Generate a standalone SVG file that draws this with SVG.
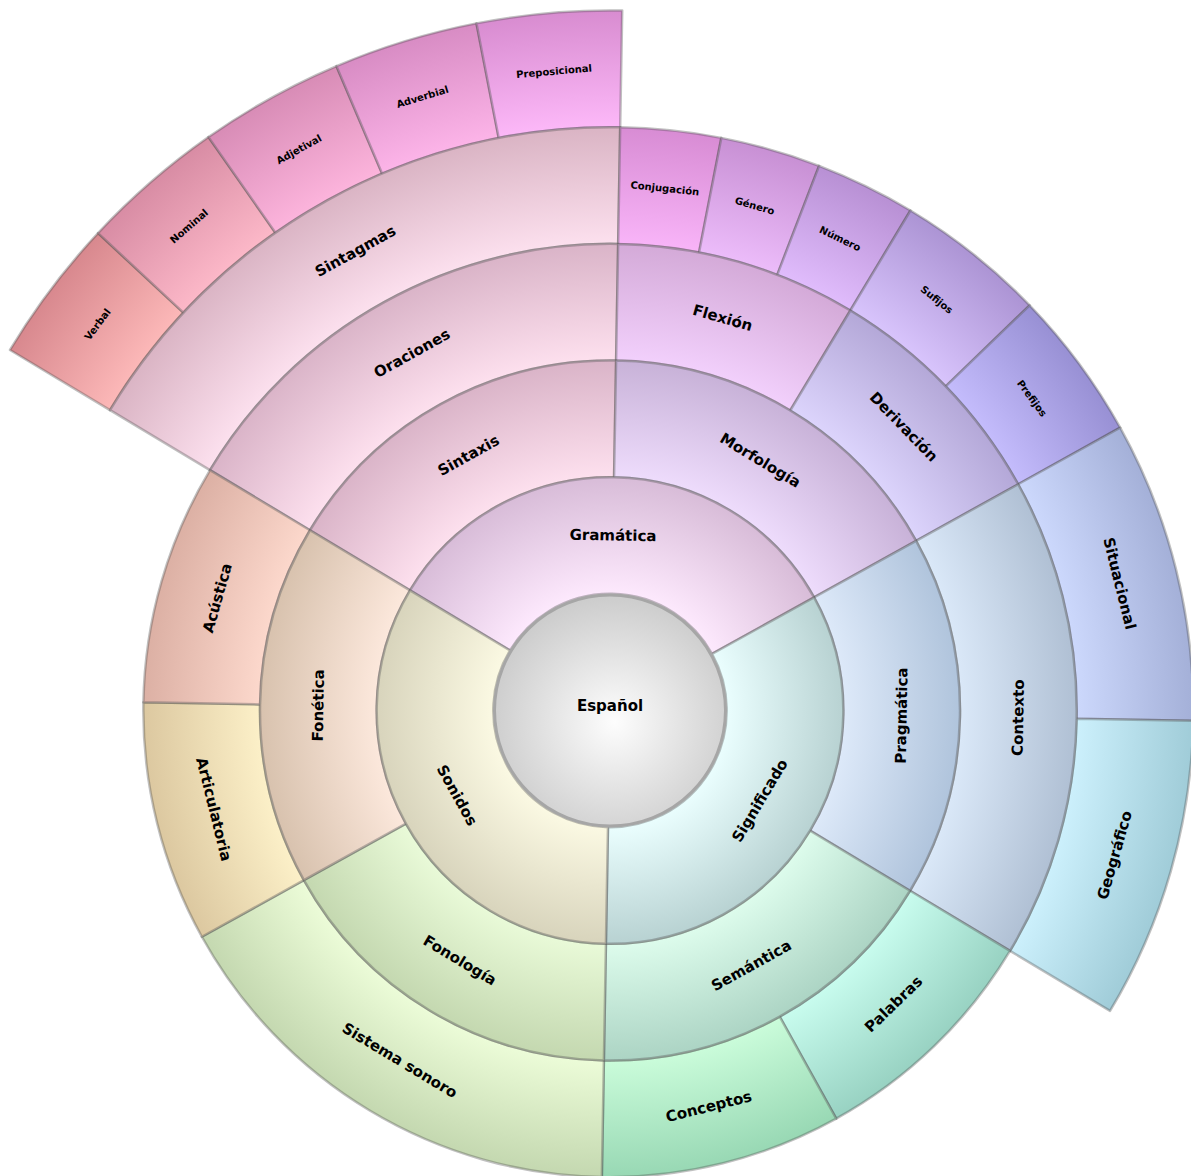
<svg xmlns="http://www.w3.org/2000/svg" xmlns:xlink="http://www.w3.org/1999/xlink" width="1191" height="1176" viewBox="0 0 1191 1176">
<style>
.seg{stroke:#505050;stroke-opacity:.36;stroke-width:2.5;stroke-linejoin:round}
.lbl{font-family:"DejaVu Sans","Liberation Sans",sans-serif;font-weight:bold;font-size:15px;fill:#000;text-anchor:middle;dominant-baseline:central}
.sm{font-size:10px}
</style>
<defs>
<path id="pA" d="M0,-233.33 A233.33,233.33 0 0 1 202.07,116.67 L101.04,58.33 A116.67,116.67 0 0 0 0,-116.67 Z"/>
<path id="pB" d="M0,-350 A350,350 0 0 1 303.11,-175 L202.07,-116.67 A233.33,233.33 0 0 0 0,-233.33 Z"/>
<path id="pC" d="M0,-466.67 A466.67,466.67 0 0 1 404.15,-233.33 L303.11,-175 A350,350 0 0 0 0,-350 Z"/>
<path id="pD" d="M0,-466.67 A466.67,466.67 0 0 1 233.33,-404.15 L175,-303.11 A350,350 0 0 0 0,-350 Z"/>
<path id="pE" d="M0,-583.33 A583.33,583.33 0 0 1 505.18,-291.67 L404.15,-233.33 A466.67,466.67 0 0 0 0,-466.67 Z"/>
<path id="pF" d="M0,-583.33 A583.33,583.33 0 0 1 101.29,-574.47 L81.04,-459.58 A466.67,466.67 0 0 0 0,-466.67 Z"/>
<path id="pG" d="M0,-583.33 A583.33,583.33 0 0 1 150.98,-563.46 L120.78,-450.77 A466.67,466.67 0 0 0 0,-466.67 Z"/>
<path id="pH" d="M0,-583.33 A583.33,583.33 0 0 1 291.67,-505.18 L233.33,-404.15 A466.67,466.67 0 0 0 0,-466.67 Z"/>
<path id="pI" d="M0,-700 A700,700 0 0 1 145.54,-684.70 L121.28,-570.59 A583.33,583.33 0 0 0 0,-583.33 Z"/>

<radialGradient id="gEsp" cx="0.52" cy="0.55" r="0.56"><stop offset="0" stop-color="#fdfdfd"/><stop offset="1" stop-color="#cbcbcb"/></radialGradient>

<radialGradient id="gGram" gradientUnits="userSpaceOnUse" cx="0" cy="0" r="700"><stop offset=".1667" stop-color="#fde9fd"/><stop offset=".3333" stop-color="#d8bcd8"/></radialGradient>
<radialGradient id="gSign" gradientUnits="userSpaceOnUse" cx="0" cy="0" r="700"><stop offset=".1667" stop-color="#eafefe"/><stop offset=".3333" stop-color="#b8d2d2"/></radialGradient>
<radialGradient id="gSon" gradientUnits="userSpaceOnUse" cx="0" cy="0" r="700"><stop offset=".1667" stop-color="#fbf9e3"/><stop offset=".3333" stop-color="#d8d4bc"/></radialGradient>

<radialGradient id="gSint" gradientUnits="userSpaceOnUse" cx="0" cy="0" r="700"><stop offset=".3333" stop-color="#fde0ee"/><stop offset=".5" stop-color="#dab4c8"/></radialGradient>
<radialGradient id="gMorf" gradientUnits="userSpaceOnUse" cx="0" cy="0" r="700"><stop offset=".3333" stop-color="#eedcfc"/><stop offset=".5" stop-color="#c8b2d8"/></radialGradient>
<radialGradient id="gPrag" gradientUnits="userSpaceOnUse" cx="0" cy="0" r="700"><stop offset=".3333" stop-color="#dde9f9"/><stop offset=".5" stop-color="#b0c4dc"/></radialGradient>
<radialGradient id="gSem" gradientUnits="userSpaceOnUse" cx="0" cy="0" r="700"><stop offset=".3333" stop-color="#ddfcec"/><stop offset=".5" stop-color="#acd4c4"/></radialGradient>
<radialGradient id="gFonol" gradientUnits="userSpaceOnUse" cx="0" cy="0" r="700"><stop offset=".3333" stop-color="#e9fad8"/><stop offset=".5" stop-color="#c4d8b0"/></radialGradient>
<radialGradient id="gFonet" gradientUnits="userSpaceOnUse" cx="0" cy="0" r="700"><stop offset=".3333" stop-color="#fce8dc"/><stop offset=".5" stop-color="#d8c2ae"/></radialGradient>

<radialGradient id="gOrac" gradientUnits="userSpaceOnUse" cx="0" cy="0" r="700"><stop offset=".5" stop-color="#fde0ee"/><stop offset=".6667" stop-color="#dab4c8"/></radialGradient>
<radialGradient id="gFlex" gradientUnits="userSpaceOnUse" cx="0" cy="0" r="700"><stop offset=".5" stop-color="#f2d0fc"/><stop offset=".6667" stop-color="#d4aad8"/></radialGradient>
<radialGradient id="gDeriv" gradientUnits="userSpaceOnUse" cx="0" cy="0" r="700"><stop offset=".5" stop-color="#dcd4fc"/><stop offset=".6667" stop-color="#b4a8d8"/></radialGradient>
<radialGradient id="gCont" gradientUnits="userSpaceOnUse" cx="0" cy="0" r="700"><stop offset=".5" stop-color="#dae8f8"/><stop offset=".6667" stop-color="#b0c0d4"/></radialGradient>
<radialGradient id="gPal" gradientUnits="userSpaceOnUse" cx="0" cy="0" r="700"><stop offset=".5" stop-color="#c8fcee"/><stop offset=".6667" stop-color="#98d2c2"/></radialGradient>
<radialGradient id="gConc" gradientUnits="userSpaceOnUse" cx="0" cy="0" r="700"><stop offset=".5" stop-color="#cafcda"/><stop offset=".6667" stop-color="#98d8b4"/></radialGradient>
<radialGradient id="gSis" gradientUnits="userSpaceOnUse" cx="0" cy="0" r="700"><stop offset=".5" stop-color="#ecfcd8"/><stop offset=".6667" stop-color="#c4d8b0"/></radialGradient>
<radialGradient id="gArt" gradientUnits="userSpaceOnUse" cx="0" cy="0" r="700"><stop offset=".5" stop-color="#fcf0c8"/><stop offset=".6667" stop-color="#dcc8a0"/></radialGradient>
<radialGradient id="gAcu" gradientUnits="userSpaceOnUse" cx="0" cy="0" r="700"><stop offset=".5" stop-color="#fcd8cc"/><stop offset=".6667" stop-color="#dcb0a4"/></radialGradient>

<radialGradient id="gSintag" gradientUnits="userSpaceOnUse" cx="0" cy="0" r="700"><stop offset=".6667" stop-color="#fce0ee"/><stop offset=".8333" stop-color="#dab4c4"/></radialGradient>
<radialGradient id="gConj" gradientUnits="userSpaceOnUse" cx="0" cy="0" r="700"><stop offset=".6667" stop-color="#f8b4f8"/><stop offset=".8333" stop-color="#d88cd4"/></radialGradient>
<radialGradient id="gGen" gradientUnits="userSpaceOnUse" cx="0" cy="0" r="700"><stop offset=".6667" stop-color="#ecbcfa"/><stop offset=".8333" stop-color="#c890d4"/></radialGradient>
<radialGradient id="gNum" gradientUnits="userSpaceOnUse" cx="0" cy="0" r="700"><stop offset=".6667" stop-color="#e0bcfc"/><stop offset=".8333" stop-color="#b890d4"/></radialGradient>
<radialGradient id="gSuf" gradientUnits="userSpaceOnUse" cx="0" cy="0" r="700"><stop offset=".6667" stop-color="#d8c4fc"/><stop offset=".8333" stop-color="#ac94d4"/></radialGradient>
<radialGradient id="gPref" gradientUnits="userSpaceOnUse" cx="0" cy="0" r="700"><stop offset=".6667" stop-color="#c4bcfc"/><stop offset=".8333" stop-color="#9890d4"/></radialGradient>
<radialGradient id="gSit" gradientUnits="userSpaceOnUse" cx="0" cy="0" r="700"><stop offset=".6667" stop-color="#ccd8fc"/><stop offset=".8333" stop-color="#a4b0d8"/></radialGradient>
<radialGradient id="gGeo" gradientUnits="userSpaceOnUse" cx="0" cy="0" r="700"><stop offset=".6667" stop-color="#ccf0fc"/><stop offset=".8333" stop-color="#a0ccd8"/></radialGradient>

<radialGradient id="gVerb" gradientUnits="userSpaceOnUse" cx="0" cy="0" r="700"><stop offset=".8333" stop-color="#fcb8b8"/><stop offset="1" stop-color="#d8888e"/></radialGradient>
<radialGradient id="gNom" gradientUnits="userSpaceOnUse" cx="0" cy="0" r="700"><stop offset=".8333" stop-color="#fcb8c8"/><stop offset="1" stop-color="#d88ca4"/></radialGradient>
<radialGradient id="gAdj" gradientUnits="userSpaceOnUse" cx="0" cy="0" r="700"><stop offset=".8333" stop-color="#fcb4dc"/><stop offset="1" stop-color="#d88cb6"/></radialGradient>
<radialGradient id="gAdv" gradientUnits="userSpaceOnUse" cx="0" cy="0" r="700"><stop offset=".8333" stop-color="#fcb4e8"/><stop offset="1" stop-color="#d88cc4"/></radialGradient>
<radialGradient id="gPrep" gradientUnits="userSpaceOnUse" cx="0" cy="0" r="700"><stop offset=".8333" stop-color="#fcb8f8"/><stop offset="1" stop-color="#d88cd0"/></radialGradient>
</defs>

<rect width="1191" height="1176" fill="#ffffff"/>

<g transform="translate(610,710.5)">
  <!-- ring 5 -->
  <g id="verbal"><use xlink:href="#pI" class="seg" fill="url(#gVerb)" transform="rotate(-59)"/><text class="lbl sm" transform="rotate(-53) translate(0,-641.67)">Verbal</text></g>
  <g id="nominal"><use xlink:href="#pI" class="seg" fill="url(#gNom)" transform="rotate(-47)"/><text class="lbl sm" transform="rotate(-41) translate(0,-641.67)">Nominal</text></g>
  <g id="adjetival"><use xlink:href="#pI" class="seg" fill="url(#gAdj)" transform="rotate(-35)"/><text class="lbl sm" transform="rotate(-29) translate(0,-641.67)">Adjetival</text></g>
  <g id="adverbial"><use xlink:href="#pI" class="seg" fill="url(#gAdv)" transform="rotate(-23)"/><text class="lbl sm" transform="rotate(-17) translate(0,-641.67)">Adverbial</text></g>
  <g id="preposicional"><use xlink:href="#pI" class="seg" fill="url(#gPrep)" transform="rotate(-11)"/><text class="lbl sm" transform="rotate(-5) translate(0,-641.67)">Preposicional</text></g>

  <!-- ring 4 -->
  <g id="sintagmas"><use xlink:href="#pE" class="seg" fill="url(#gSintag)" transform="rotate(-59)"/><text class="lbl" transform="rotate(-29) translate(0,-525)">Sintagmas</text></g>
  <g id="conjugacion"><use xlink:href="#pF" class="seg" fill="url(#gConj)" transform="rotate(1)"/><text class="lbl sm" transform="rotate(6) translate(0,-525)">Conjugación</text></g>
  <g id="genero"><use xlink:href="#pF" class="seg" fill="url(#gGen)" transform="rotate(11)"/><text class="lbl sm" transform="rotate(16) translate(0,-525)">Género</text></g>
  <g id="numero"><use xlink:href="#pF" class="seg" fill="url(#gNum)" transform="rotate(21)"/><text class="lbl sm" transform="rotate(26) translate(0,-525)">Número</text></g>
  <g id="sufijos"><use xlink:href="#pG" class="seg" fill="url(#gSuf)" transform="rotate(31)"/><text class="lbl sm" transform="rotate(38.5) translate(0,-525)">Sufijos</text></g>
  <g id="prefijos"><use xlink:href="#pG" class="seg" fill="url(#gPref)" transform="rotate(46)"/><text class="lbl sm" transform="rotate(53.5) translate(0,-525)">Prefijos</text></g>
  <g id="situacional"><use xlink:href="#pH" class="seg" fill="url(#gSit)" transform="rotate(61)"/><text class="lbl" transform="rotate(76) translate(0,-525)">Situacional</text></g>
  <g id="geografico"><use xlink:href="#pH" class="seg" fill="url(#gGeo)" transform="rotate(91)"/><text class="lbl" transform="rotate(106) translate(0,-525) rotate(180)">Geográfico</text></g>

  <!-- ring 3 -->
  <g id="oraciones"><use xlink:href="#pC" class="seg" fill="url(#gOrac)" transform="rotate(-59)"/><text class="lbl" transform="rotate(-29) translate(0,-408.33)">Oraciones</text></g>
  <g id="flexion"><use xlink:href="#pD" class="seg" fill="url(#gFlex)" transform="rotate(1)"/><text class="lbl" transform="rotate(16) translate(0,-408.33)">Flexión</text></g>
  <g id="derivacion"><use xlink:href="#pD" class="seg" fill="url(#gDeriv)" transform="rotate(31)"/><text class="lbl" transform="rotate(46) translate(0,-408.33)">Derivación</text></g>
  <g id="contexto"><use xlink:href="#pC" class="seg" fill="url(#gCont)" transform="rotate(61)"/><text class="lbl" transform="rotate(91) translate(0,-408.33) rotate(180)">Contexto</text></g>
  <g id="palabras"><use xlink:href="#pD" class="seg" fill="url(#gPal)" transform="rotate(121)"/><text class="lbl" transform="rotate(136) translate(0,-408.33) rotate(180)">Palabras</text></g>
  <g id="conceptos"><use xlink:href="#pD" class="seg" fill="url(#gConc)" transform="rotate(151)"/><text class="lbl" transform="rotate(166) translate(0,-408.33) rotate(180)">Conceptos</text></g>
  <g id="sistema-sonoro"><use xlink:href="#pC" class="seg" fill="url(#gSis)" transform="rotate(181)"/><text class="lbl" transform="rotate(211) translate(0,-408.33) rotate(180)">Sistema sonoro</text></g>
  <g id="articulatoria"><use xlink:href="#pD" class="seg" fill="url(#gArt)" transform="rotate(241)"/><text class="lbl" transform="rotate(256) translate(0,-408.33) rotate(180)">Articulatoria</text></g>
  <g id="acustica"><use xlink:href="#pD" class="seg" fill="url(#gAcu)" transform="rotate(271)"/><text class="lbl" transform="rotate(286) translate(0,-408.33)">Acústica</text></g>

  <!-- ring 2 -->
  <g id="sintaxis"><use xlink:href="#pB" class="seg" fill="url(#gSint)" transform="rotate(-59)"/><text class="lbl" transform="rotate(-29) translate(0,-291.67)">Sintaxis</text></g>
  <g id="morfologia"><use xlink:href="#pB" class="seg" fill="url(#gMorf)" transform="rotate(1)"/><text class="lbl" transform="rotate(31) translate(0,-291.67)">Morfología</text></g>
  <g id="pragmatica"><use xlink:href="#pB" class="seg" fill="url(#gPrag)" transform="rotate(61)"/><text class="lbl" transform="rotate(91) translate(0,-291.67) rotate(180)">Pragmática</text></g>
  <g id="semantica"><use xlink:href="#pB" class="seg" fill="url(#gSem)" transform="rotate(121)"/><text class="lbl" transform="rotate(151) translate(0,-291.67) rotate(180)">Semántica</text></g>
  <g id="fonologia"><use xlink:href="#pB" class="seg" fill="url(#gFonol)" transform="rotate(181)"/><text class="lbl" transform="rotate(211) translate(0,-291.67) rotate(180)">Fonología</text></g>
  <g id="fonetica"><use xlink:href="#pB" class="seg" fill="url(#gFonet)" transform="rotate(241)"/><text class="lbl" transform="rotate(271) translate(0,-291.67)">Fonética</text></g>

  <!-- ring 1 -->
  <g id="gramatica"><use xlink:href="#pA" class="seg" fill="url(#gGram)" transform="rotate(-59)"/><text class="lbl" transform="rotate(1) translate(0,-175)">Gramática</text></g>
  <g id="significado"><use xlink:href="#pA" class="seg" fill="url(#gSign)" transform="rotate(61)"/><text class="lbl" transform="rotate(121) translate(0,-175) rotate(180)">Significado</text></g>
  <g id="sonidos"><use xlink:href="#pA" class="seg" fill="url(#gSon)" transform="rotate(181)"/><text class="lbl" transform="rotate(241) translate(0,-175) rotate(180)">Sonidos</text></g>

  <!-- center -->
  <g id="espanol"><circle r="115.5" fill="url(#gEsp)" stroke="#a6a6a6" stroke-width="3"/><text class="lbl" x="0" y="-5">Español</text></g>
</g>
</svg>
